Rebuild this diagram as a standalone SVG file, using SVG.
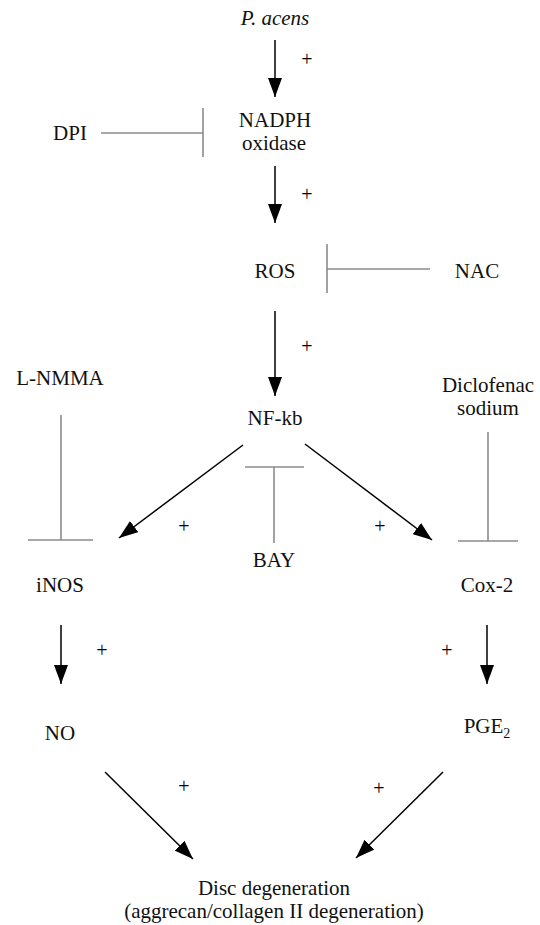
<svg xmlns="http://www.w3.org/2000/svg" width="540" height="925" viewBox="0 0 540 925">
<style>
text{font-family:"Liberation Serif","Times New Roman",serif;font-size:21px;fill:#111;text-anchor:middle}
.it{font-style:italic}
.plus{font-size:20px;fill:#000}
.act{stroke:#000;stroke-width:1.5;fill:none;marker-end:url(#ah)}
.inh{stroke:#8c8c8c;stroke-width:1.6;fill:none}
</style>
<defs>
<marker id="ah" viewBox="0 0 19 14" refX="19" refY="7" markerWidth="19" markerHeight="14" markerUnits="userSpaceOnUse" orient="auto">
<path d="M0,0 L19,7 L0,14 z" fill="#000"/>
</marker>
</defs>
<rect width="540" height="925" fill="#fff"/>
<g id="connectors">
<line class="act" x1="275" y1="40" x2="275" y2="97"/>
<line class="act" x1="275" y1="166" x2="275" y2="223"/>
<line class="act" x1="275" y1="311" x2="275" y2="396"/>
<line class="act" x1="243" y1="445" x2="119" y2="538"/>
<line class="act" x1="305" y1="444" x2="432" y2="540"/>
<line class="act" x1="61" y1="625" x2="61" y2="684"/>
<line class="act" x1="487" y1="625" x2="487" y2="684"/>
<line class="act" x1="105" y1="772" x2="193" y2="859"/>
<line class="act" x1="443" y1="772" x2="356" y2="858"/>
<path class="inh" d="M101,133 H203 M203,108 V157"/>
<path class="inh" d="M430,269 H327 M327,244 V293"/>
<path class="inh" d="M61,415 V540 M28,540 H93"/>
<path class="inh" d="M274,543 V467 M245,467 H304"/>
<path class="inh" d="M488,432 V541 M458,541 H518"/>
<text class="plus" x="307" y="66">+</text>
<text class="plus" x="307" y="201">+</text>
<text class="plus" x="307" y="353">+</text>
<text class="plus" x="184" y="533">+</text>
<text class="plus" x="380" y="533">+</text>
<text class="plus" x="102" y="657">+</text>
<text class="plus" x="447" y="657">+</text>
<text class="plus" x="184" y="793">+</text>
<text class="plus" x="379" y="795">+</text>
</g>
<g id="pacens"><text class="it" x="275" y="25">P. acens</text></g>
<g id="nadph"><text x="275" y="127">NADPH</text><text x="274" y="150">oxidase</text></g>
<g id="dpi"><text x="70" y="140">DPI</text></g>
<g id="ros"><text x="275" y="278">ROS</text></g>
<g id="nac"><text x="477" y="278">NAC</text></g>
<g id="lnmma"><text x="60" y="385">L-NMMA</text></g>
<g id="nfkb"><text x="275" y="425">NF-kb</text></g>
<g id="diclofenac"><text x="488" y="392">Diclofenac</text><text x="488" y="415">sodium</text></g>
<g id="inos"><text x="60" y="592">iNOS</text></g>
<g id="bay"><text x="274" y="567">BAY</text></g>
<g id="cox2"><text x="487" y="592">Cox-2</text></g>
<g id="no"><text x="60" y="740">NO</text></g>
<g id="pge2"><text x="487" y="733">PGE<tspan font-size="14" dy="5">2</tspan></text></g>
<g id="disc"><text x="274" y="895">Disc degeneration</text><text x="274" y="918">(aggrecan/collagen II degeneration)</text></g>
</svg>
